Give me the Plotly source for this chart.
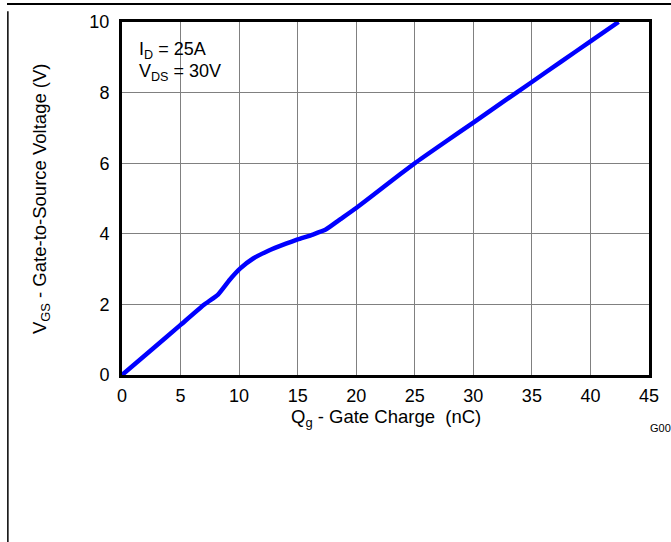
import plotly.graph_objects as go

# Data (gate charge curve)
qg_nc = [0, 2.5, 5, 7, 8.2, 9.2, 10.1, 11.2, 12.5, 14, 15, 16.3, 17.4, 18.5, 20, 22.5, 25, 27.5, 30, 32.5, 35, 37.5, 40, 42.4]
vgs_v = [0, 0.71, 1.42, 1.99, 2.28, 2.7, 3.02, 3.3, 3.52, 3.72, 3.84, 3.98, 4.12, 4.38, 4.73, 5.37, 6.0, 6.58, 7.15, 7.73, 8.3, 8.88, 9.45, 10.0]

x_ticks = [0, 5, 10, 15, 20, 25, 30, 35, 40, 45]
y_ticks = [0, 2, 4, 6, 8, 10]

W, H = 671, 542
L, R, T, B = 122, 653, 15, 375  # plot area in pixels

def px(x):
    return (x - L) / (R - L)

def py(y):
    return (B - y) / (B - T)

FONT = "Liberation Sans, Arial, sans-serif"

fig = go.Figure()
fig.add_trace(go.Scatter(
    x=qg_nc, y=vgs_v, mode="lines",
    line=dict(color="#0000FF", width=4.5, shape="spline", smoothing=0.4),
    hoverinfo="skip", showlegend=False,
))

axis_common = dict(
    showline=True, linecolor="black", linewidth=3, mirror=True,
    showgrid=True, gridcolor="#808080", gridwidth=1,
    zeroline=False, ticks="",
    tickfont=dict(family=FONT, size=18, color="black"),
)

fig.update_layout(
    width=W, height=H,
    margin=dict(l=L, r=W - R, t=T, b=H - B),
    paper_bgcolor="white", plot_bgcolor="white",
    font=dict(family=FONT, color="black"),
    xaxis=dict(range=[0, 45], tickvals=x_ticks, ticklabelstandoff=2, **axis_common),
    yaxis=dict(range=[0, 10], tickvals=y_ticks, ticklabelstandoff=6, **axis_common),
    showlegend=False,
)

annotations = [
    dict(text="I<sub>D</sub> = 25A", x=px(137), y=py(44), xanchor="left", yanchor="middle",
         font=dict(size=18)),
    dict(text="V<sub>DS</sub> = 30V", x=px(137), y=py(66), xanchor="left", yanchor="middle",
         font=dict(size=18)),
    dict(text="Q<sub>g</sub> - Gate Charge \u00a0(nC)", x=px(387.5), y=py(419), xanchor="center",
         yanchor="middle", font=dict(size=18.5)),
    dict(text="V<sub>GS</sub> - Gate-to-Source Voltage (V)", x=px(40), y=py(195), xanchor="center",
         yanchor="middle", textangle=-90, font=dict(size=18.5)),
    dict(text="G001", x=px(652), y=py(429), xanchor="left", yanchor="middle",
         font=dict(size=11)),
]
for a in annotations:
    fig.add_annotation(xref="paper", yref="paper", showarrow=False, **a)

# outer frame: left line as a shape, top line as a page overlay
fig.add_shape(type="line", xref="paper", yref="paper", x0=px(7), x1=px(7), y0=py(4), y1=py(560),
              line=dict(color="black", width=1.5))

post = (
    "document.body.style.margin='0px';"
    "document.body.style.overflow='hidden';"
    "var fr=document.createElement('div');"
    "fr.style.cssText='position:fixed;left:7px;top:3px;width:700px;height:2px;background:#000;z-index:9999;pointer-events:none;';"
    "document.body.appendChild(fr);"
)

fig.write_html(
    "out.html",
    config={"displayModeBar": False, "staticPlot": True},
    post_script=post,
)
